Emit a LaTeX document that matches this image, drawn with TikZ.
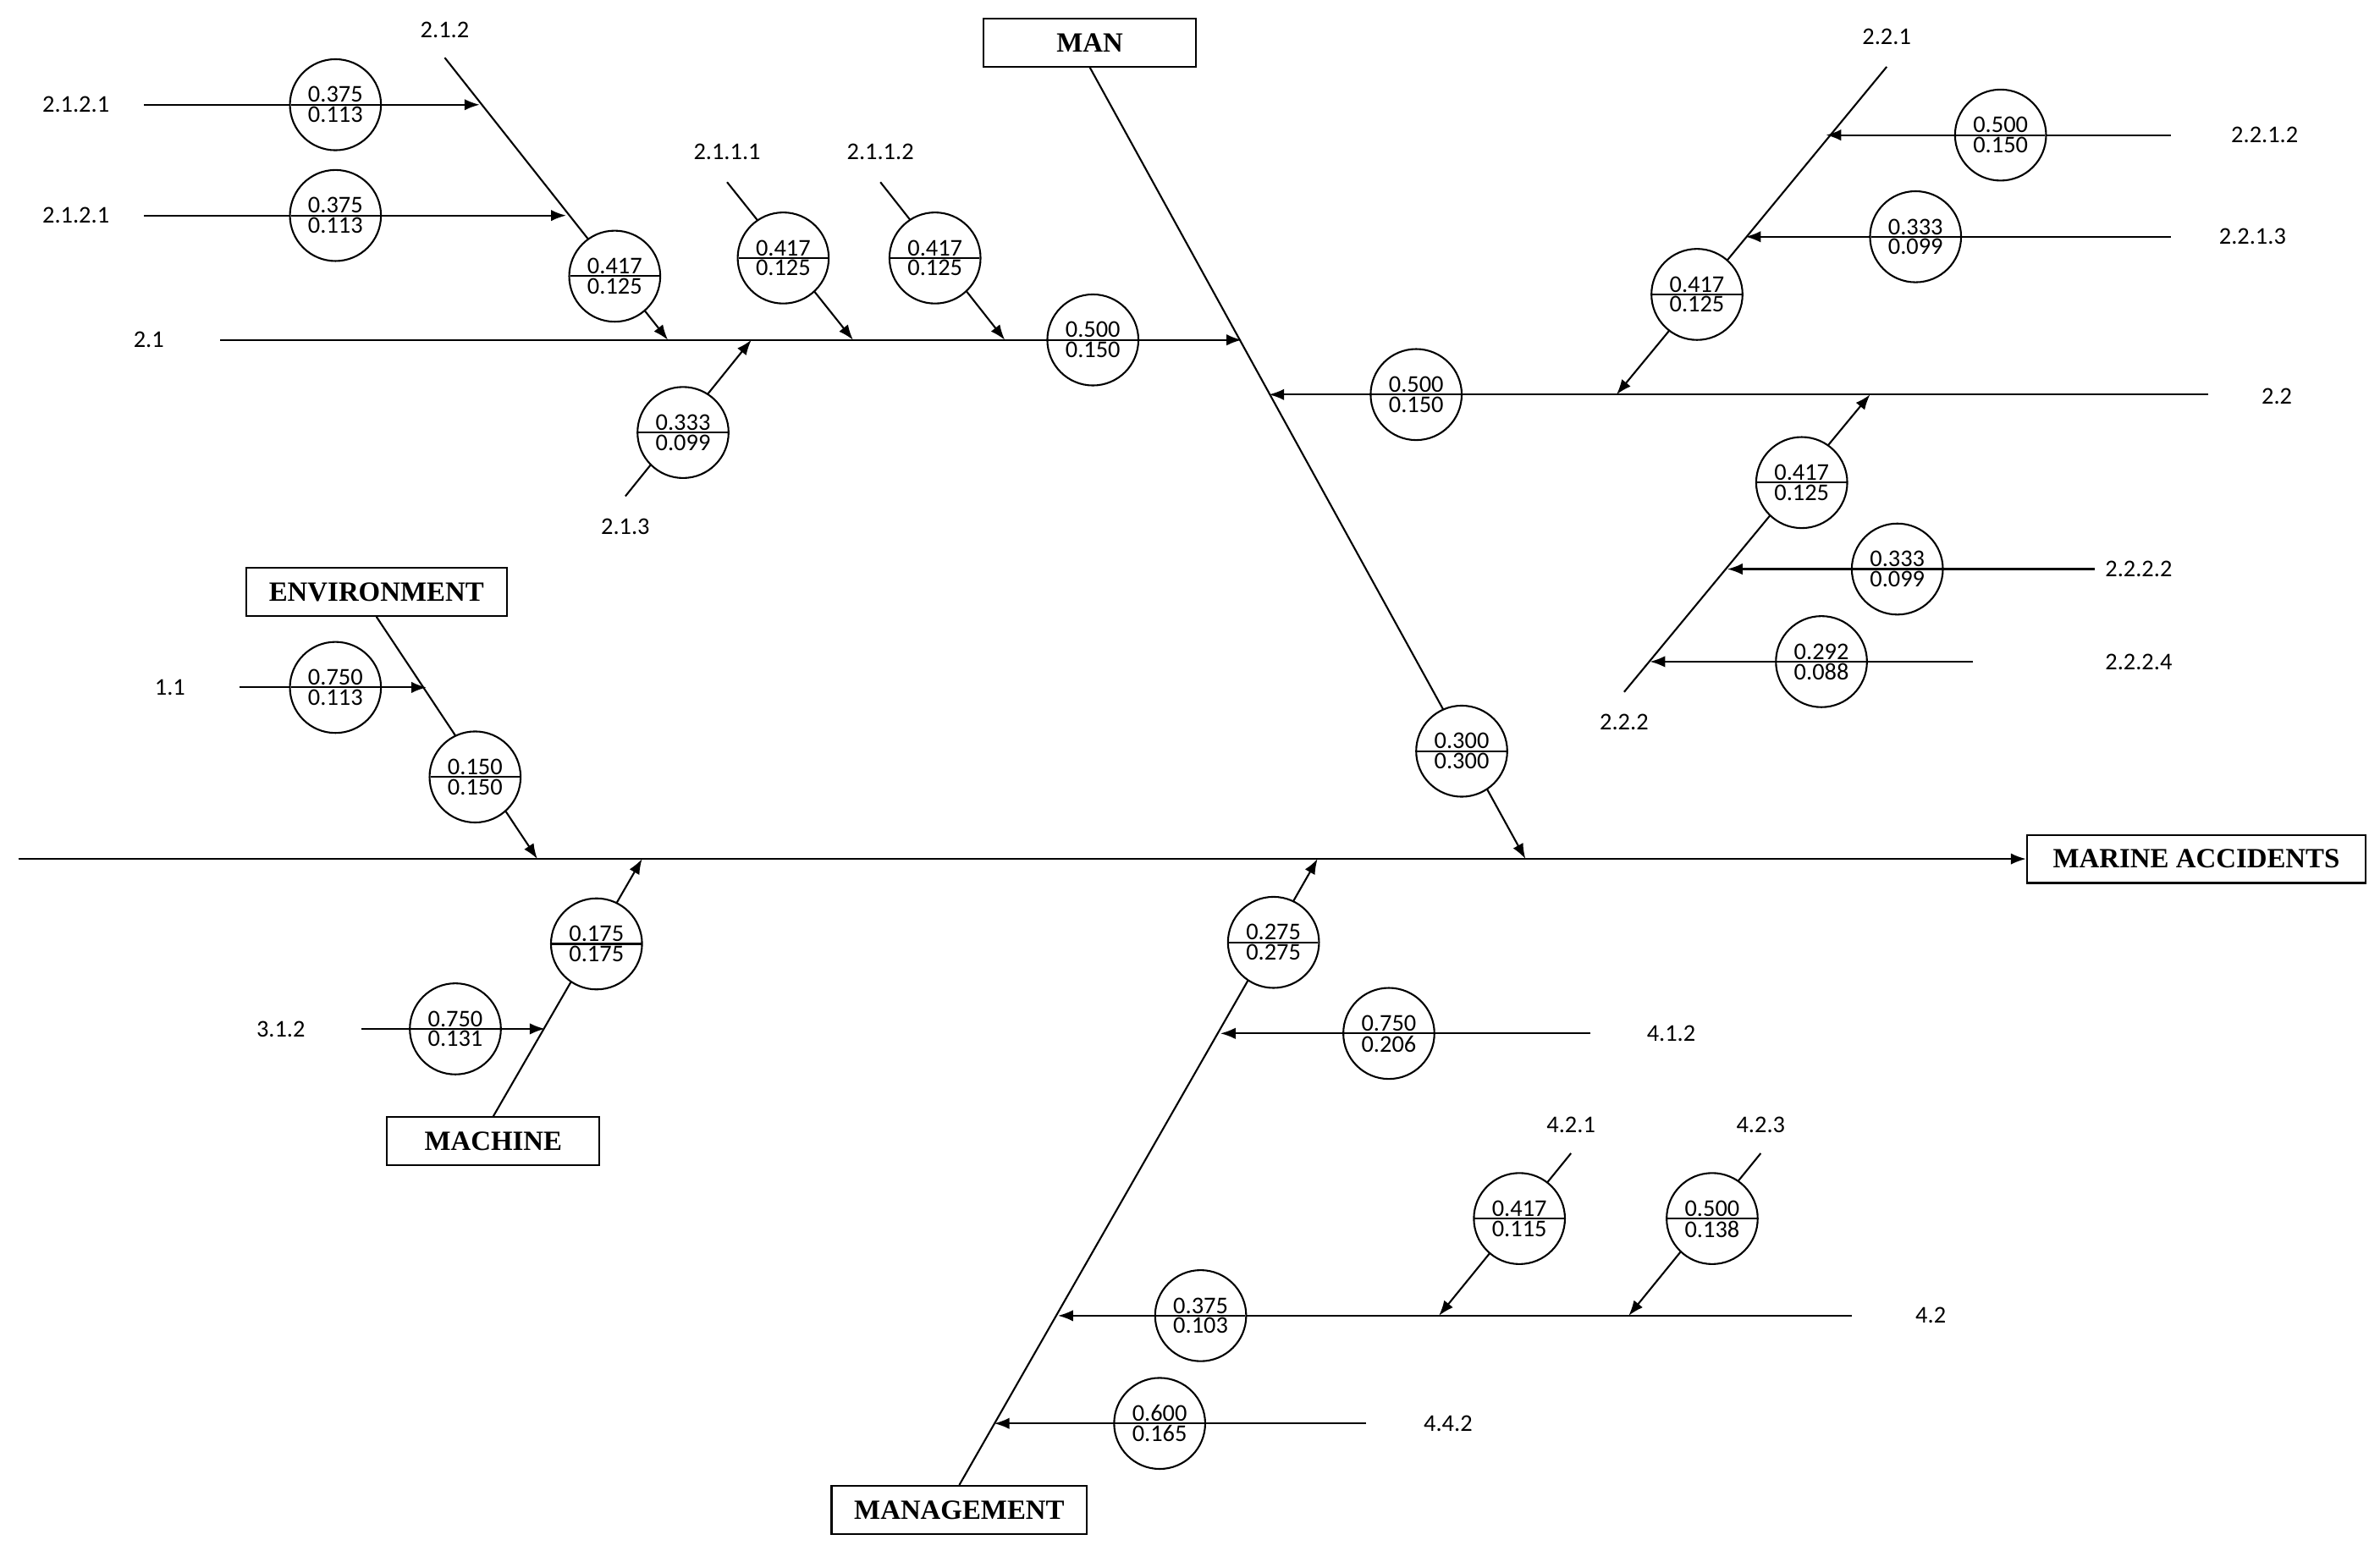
\documentclass[tikz,border=0pt]{standalone}
\usepackage{fontspec}
\setmainfont{Liberation Serif}
\newfontfamily\labfont{Carlito}
\usetikzlibrary{shapes.multipart,arrows.meta}
\tikzset{
 arr/.style={-{Latex[length=6pt,width=4.5pt]},line width=0.7pt},
 ln/.style={line width=0.7pt},
 val/.style={circle split,draw,line width=0.7pt,fill=white,minimum size=36pt,inner sep=0.5pt,font=\labfont\fontsize{9.5}{10}\selectfont},
 lab/.style={font=\labfont\fontsize{9.5}{10}\selectfont},
 box/.style={draw,line width=0.7pt,fill=white,font=\bfseries\fontsize{11}{12}\selectfont,minimum height=19pt,inner sep=1pt}
}
\newcommand\Br[8]{%
 \coordinate (#1s) at (#2); \coordinate (#1e) at (#3);
 \draw[arr] (#1s) -- (#1e);
 \node[val] (#1c) at (#4) {#5\nodepart{lower}#6};
 \node[lab] (#1l) at (#7) {#8};}
\begin{document}
\begin{tikzpicture}[x=0.6pt,y=-0.6pt]
\useasboundingbox (0,0) rectangle (1568,1022);
% main spine
\node[box,minimum width=134pt] (ma) at (1447,566) {MARINE ACCIDENTS};
\coordinate (sp) at (12,566);
\draw[arr] (sp) -- (ma.west);
% MAN
\node[box,minimum width=84pt] (man) at (718,28) {MAN};
\coordinate (mane) at (1005,566);
\draw[arr] (man.south) -- (mane);
\node[val] (manc) at (963,495) {0.300\nodepart{lower}0.300};
\Br{a}{145,224}{818,224}{720,224}{0.500}{0.150}{98,224}{2.1}
\Br{b}{293,38}{440,224}{405,182}{0.417}{0.125}{293,20}{2.1.2}
\Br{c}{95,69}{316,69}{221,69}{0.375}{0.113}{50,69}{2.1.2.1}
\Br{d}{95,142}{373,142}{221,142}{0.375}{0.113}{50,142}{2.1.2.1}
\Br{e}{479,120}{562,224}{516,170}{0.417}{0.125}{479,100}{2.1.1.1}
\Br{f}{580,120}{662,224}{616,170}{0.417}{0.125}{580,100}{2.1.1.2}
\Br{g}{412,327}{495,224}{450,285}{0.333}{0.099}{412,347}{2.1.3}
\Br{h}{1455,260}{836,260}{933,260}{0.500}{0.150}{1500,261}{2.2}
\Br{i}{1243,44}{1065,260}{1118,194}{0.417}{0.125}{1243,24}{2.2.1}
\Br{j}{1430,89}{1203,89}{1318,89}{0.500}{0.150}{1492,89}{2.2.1.2}
\Br{k}{1430,156}{1150,156}{1262,156}{0.333}{0.099}{1484,156}{2.2.1.3}
\Br{l}{1070,456}{1232,260}{1187,318}{0.417}{0.125}{1070,476}{2.2.2}
\Br{m}{1380,375}{1138,375}{1250,375}{0.333}{0.099}{1409,375}{2.2.2.2}
\Br{n}{1300,436}{1087,436}{1200,436}{0.292}{0.088}{1409,436}{2.2.2.4}
% ENVIRONMENT
\node[box,minimum width=103pt] (env) at (248,390) {ENVIRONMENT};
\coordinate (enve) at (354,566);
\draw[arr] (env.south) -- (enve);
\node[val] (envc) at (313,512) {0.150\nodepart{lower}0.150};
\Br{o}{158,453}{281,453}{221,453}{0.750}{0.113}{112,453}{1.1}
% MACHINE
\node[box,minimum width=84pt] (mac) at (325,752) {MACHINE};
\coordinate (mace) at (423,566);
\draw[arr] (mac.north) -- (mace);
\node[val] (macc) at (393,622) {0.175\nodepart{lower}0.175};
\Br{p}{238,678}{359,678}{300,678}{0.750}{0.131}{185,678}{3.1.2}
% MANAGEMENT
\node[box,minimum width=101pt] (mgt) at (632,995) {MANAGEMENT};
\coordinate (mgte) at (868,566);
\draw[arr] (mgt.north) -- (mgte);
\node[val] (mgtc) at (839,621) {0.275\nodepart{lower}0.275};
\Br{q}{1048,681}{804,681}{915,681}{0.750}{0.206}{1101,681}{4.1.2}
\Br{r}{1220,867}{697,867}{791,867}{0.375}{0.103}{1272,867}{4.2}
\Br{s}{1035,760}{948,867}{1001,803}{0.417}{0.115}{1035,741}{4.2.1}
\Br{t}{1160,760}{1073,867}{1128,803}{0.500}{0.138}{1160,741}{4.2.3}
\Br{u}{900,938}{655,938}{764,938}{0.600}{0.165}{954,938}{4.4.2}
\end{tikzpicture}
\end{document}
